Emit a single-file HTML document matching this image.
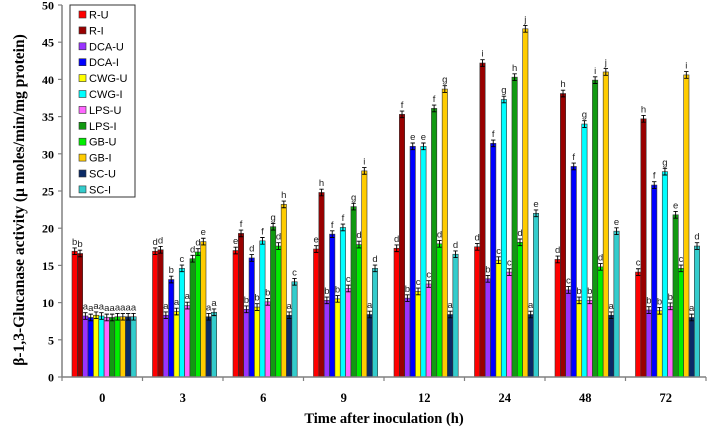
<!DOCTYPE html>
<html><head><meta charset="utf-8">
<style>
html,body{margin:0;padding:0;background:#fff;}
svg{display:block;font-family:"Liberation Serif",serif;}
</style></head>
<body>
<svg id="chart" width="709" height="430" viewBox="0 0 709 430" xmlns="http://www.w3.org/2000/svg">
<text transform="translate(24,200) rotate(-90)" text-anchor="middle" font-size="15.5" font-weight="bold">β-1,3-Glucanase activity (µ moles/min/mg protein)</text>
<text x="384" y="423" text-anchor="middle" font-size="14.5" font-weight="bold">Time after inoculation (h)</text>
<g id="plot"></g>
</svg>
<script>
const categories = ["0","3","6","9","12","24","48","72"];
const seriesNames = ["R-U","R-I","DCA-U","DCA-I","CWG-U","CWG-I","LPS-U","LPS-I","GB-U","GB-I","SC-U","SC-I"];
const seriesColors = ["#ff0000","#990000","#9933ff","#0000ff","#ffff00","#00ffff","#ff66ff","#119911","#00ee00","#ffcc00","#0a2a66","#33cccc"];
const yTicks = [0,5,10,15,20,25,30,35,40,45,50];
const sRU   = [16.9,16.9,17.0,17.2,17.3,17.5,15.8,14.1];
const sRI   = [16.6,17.1,19.3,24.8,35.3,42.2,38.1,34.7];
const sDCAU = [8.2,8.3,9.1,10.3,10.6,13.2,11.7,9.0];
const sDCAI = [8.0,13.1,16.0,19.2,31.0,31.4,28.3,25.8];
const sCWGU = [8.3,8.8,9.4,10.5,11.5,15.7,10.3,8.9];
const sCWGI = [8.2,14.6,18.3,20.1,31.0,37.3,34.0,27.6];
const sLPSU = [8.0,9.6,10.1,11.9,12.5,14.1,10.3,9.5];
const sLPSI = [8.0,15.9,20.2,22.9,36.1,40.3,39.9,21.8];
const sGBU  = [8.1,16.8,17.6,17.8,17.9,18.1,14.8,14.6];
const sGBI  = [8.1,18.2,23.2,27.7,38.7,46.8,41.0,40.6];
const sSCU  = [8.1,8.1,8.3,8.4,8.4,8.4,8.3,8.0];
const sSCI  = [8.1,8.7,12.8,14.6,16.5,22.0,19.6,17.6];
const letters = [
 ["b","b","a","a","a","a","a","a","a","a","a","a"],
 ["d","d","a","b","a","c","a","d","d","e","a","a"],
 ["e","f","b","d","b","f","b","g","d","h","a","c"],
 ["e","h","b","f","b","f","c","g","d","i","a","d"],
 ["d","f","b","e","c","e","c","f","d","g","a","d"],
 ["d","i","b","f","c","g","c","h","d","j","a","e"],
 ["d","h","c","f","b","g","b","i","d","j","a","e"],
 ["c","h","b","f","b","g","b","e","c","i","a","d"]
];
const seriesValues = [sRU,sRI,sDCAU,sDCAI,sCWGU,sCWGI,sLPSU,sLPSI,sGBU,sGBI,sSCU,sSCI];

const NS="http://www.w3.org/2000/svg";
const X0=62, X1=706, Y0=377, Y1=5, YMAX=50;
const yScale=v=>Y0-(v/YMAX)*(Y0-Y1);
const groupW=(X1-X0)/categories.length;
const barW=5.35, groupPad=10;
const xBar=(g,s)=>X0+g*groupW+groupPad+s*barW;
const plot=document.getElementById('plot');
function mk(tag,attrs){const e=document.createElementNS(NS,tag);for(const k in attrs)e.setAttribute(k,attrs[k]);return e;}

const yAxis=mk('line',{x1:X0,y1:Y1,x2:X0,y2:Y0,stroke:'#808080','stroke-width':1.5});


plot.appendChild(yAxis);
yTicks.forEach(t=>{
  const y=yScale(t);
  const tk=mk('line',{x1:X0-4,y1:y,x2:X0,y2:y,stroke:'#808080','stroke-width':1.2});
  
  
  plot.appendChild(tk);
  const lb=mk('text',{x:X0-8,y:y+4.5,'text-anchor':'end','font-size':12,'font-weight':'bold'});
  lb.textContent=t;
  
  
  plot.appendChild(lb);
});

seriesValues.forEach((arr,s)=>{
  arr.forEach((v,g)=>{
    const x=xBar(g,s), y=yScale(v);
    const r=mk('rect',{x:x,y:y,width:barW,height:Y0-y,fill:seriesColors[s],stroke:'#333','stroke-width':0.6});
    
    
    plot.appendChild(r);
    const cx=x+barW/2, e=0.45, yt=yScale(v+e), yb=yScale(v-e);
    const eb=mk('path',{d:`M${cx},${yt}V${yb}M${cx-2.2},${yt}H${cx+2.2}M${cx-2.2},${yb}H${cx+2.2}`,stroke:'#000','stroke-width':0.9,fill:'none'});
    
    
    plot.appendChild(eb);
    const lt=mk('text',{x:cx,y:yt-3,'text-anchor':'middle','font-size':9.5,'font-family':'Liberation Sans, sans-serif',fill:'#222'});
    lt.textContent=letters[g][s];
    
    
    plot.appendChild(lt);
  });
});

const xAxis=mk('line',{x1:X0,y1:Y0,x2:X1,y2:Y0,stroke:'#808080','stroke-width':1.5});


plot.appendChild(xAxis);
for(let i=0;i<=categories.length;i++){
  const x=X0+i*groupW;
  const tk=mk('line',{x1:x,y1:Y0,x2:x,y2:Y0+4,stroke:'#808080','stroke-width':1.2});
  
  
  plot.appendChild(tk);
}
categories.forEach((c,g)=>{
  const lb=mk('text',{x:X0+g*groupW+groupW/2,y:402,'text-anchor':'middle','font-size':12.5,'font-weight':'bold'});
  lb.textContent=c;
  
  
  plot.appendChild(lb);
});

const lg=mk('g',{});


plot.appendChild(lg);
lg.appendChild(mk('rect',{x:70,y:5,width:65,height:192,fill:'#fff',stroke:'#333','stroke-width':1}));
seriesNames.forEach((n,s)=>{
  const y=15+s*15.9;
  const it=mk('g',{});
  
  
  it.appendChild(mk('rect',{x:79,y:y-4,width:7,height:7,fill:seriesColors[s],stroke:'#333','stroke-width':0.6}));
  const t=mk('text',{x:89,y:y+3.5,'font-size':11,'font-family':'Liberation Sans, sans-serif'});
  t.textContent=n;
  it.appendChild(t);
  lg.appendChild(it);
});
</script>
</body></html>
